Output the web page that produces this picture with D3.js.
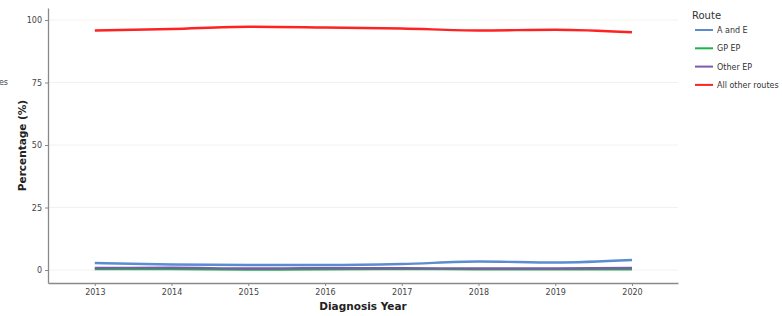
<!DOCTYPE html>
<html>
<head>
<meta charset="utf-8">
<script src="https://cdn.jsdelivr.net/npm/d3@7"></script>
<style>
  body { margin: 0; background: #fff; }
  svg text { font-family: "DejaVu Sans", Verdana, sans-serif; }
</style>
</head>
<body>
<div id="chart"></div>
<script>
// data
var years = [2013, 2014, 2015, 2016, 2017, 2018, 2019, 2020];
var routes = ["A and E", "GP EP", "Other EP", "All other routes"];
var aAndE = [2.8, 2.2, 2.0, 2.0, 2.4, 3.4, 3.0, 4.0];
var gpEP = [0.4, 0.4, 0.2, 0.3, 0.4, 0.3, 0.3, 0.3];
var otherEP = [0.8, 0.9, 0.6, 0.7, 0.7, 0.6, 0.6, 0.8];
var allOther = [95.8, 96.4, 97.3, 97.0, 96.6, 95.8, 96.1, 95.1];
var yTicks = [0, 25, 50, 75, 100];
var colors = ["#5b8bd1", "#1bb34a", "#7a5ca8", "#ff2222"];

var series = [aAndE, gpEP, otherEP, allOther].map(function(vals, i){
  return { name: routes[i], color: colors[i], values: vals.map(function(v, j){ return { year: years[j], v: v }; }) };
});

var W = 782, H = 316;
var m = { left: 48, right: 104, top: 8, bottom: 33 };

var svg = d3.select("#chart").append("svg")
  .attr("width", W)
  .attr("height", H);

var x = d3.scaleLinear()
  .domain([2012.39, 2020.6])
  .range([m.left, W - m.right]);

var y = d3.scaleLinear()
  .domain([-5.2, 104.8])
  .range([H - m.bottom, m.top]);

// gridlines
svg.append("g")
  .selectAll("line")
  .data(yTicks)
  .join("line")
  .attr("x1", m.left)
  .attr("x2", W - m.right)
  .attr("y1", d => y(d))
  .attr("y2", d => y(d))
  .attr("stroke", "#f2f2ea")
  .attr("stroke-width", 1);

// axes
var xAxis = svg.append("g")
  .attr("transform", "translate(0," + (H - m.bottom) + ")")
  .call(d3.axisBottom(x).tickValues(years).tickFormat(d3.format("d")).tickSize(3).tickSizeOuter(0));

var yAxis = svg.append("g")
  .attr("transform", "translate(" + m.left + ",0)")
  .call(d3.axisLeft(y).tickValues(yTicks).tickSize(3).tickSizeOuter(0));

[xAxis, yAxis].forEach(function(a){
  a.select(".domain").attr("stroke", "#8a8a8a").attr("stroke-width", 1.3);
  a.selectAll(".tick line").attr("stroke", "#8a8a8a");
  a.selectAll(".tick text").attr("fill", "#444").style("font-size", "8px");
});

// lines
var line = d3.line()
  .x(d => x(d.year))
  .y(d => y(d.v))
  .curve(d3.curveMonotoneX);

svg.append("g")
  .selectAll("path")
  .data(series)
  .join("path")
  .attr("d", d => line(d.values))
  .attr("fill", "none")
  .attr("stroke", d => d.color)
  .attr("stroke-width", 2.4);

// axis titles
svg.append("text")
  .attr("transform", "rotate(-90)")
  .attr("x", -(m.top + (H - m.bottom - m.top) / 2))
  .attr("y", 26)
  .attr("text-anchor", "middle")
  .style("font-size", "10.5px")
  .style("font-weight", "bold")
  .attr("fill", "#222")
  .text("Percentage (%)");

svg.append("text")
  .attr("x", m.left + (W - m.right - m.left) / 2)
  .attr("y", 310)
  .attr("text-anchor", "middle")
  .style("font-size", "10.5px")
  .style("font-weight", "bold")
  .attr("fill", "#222")
  .text("Diagnosis Year");

// clipped text at far left
svg.append("text")
  .attr("x", 8)
  .attr("y", 85)
  .attr("text-anchor", "end")
  .style("font-size", "8px")
  .attr("fill", "#444")
  .text("Routes");

// legend
var legend = svg.append("g").attr("transform", "translate(692,0)");
legend.append("text")
  .attr("x", 0)
  .attr("y", 19)
  .style("font-size", "10px")
  .attr("fill", "#333")
  .text("Route");

var items = legend.selectAll("g.item")
  .data(series)
  .join("g")
  .attr("class", "item")
  .attr("transform", (d, i) => "translate(0," + (30 + i * 18.3) + ")");
items.append("line")
  .attr("x1", 3).attr("x2", 21)
  .attr("stroke", d => d.color)
  .attr("stroke-width", 2);
items.append("text")
  .attr("x", 25)
  .attr("y", 3)
  .style("font-size", "8px")
  .attr("fill", "#333")
  .text(d => d.name);
</script>
</body>
</html>
